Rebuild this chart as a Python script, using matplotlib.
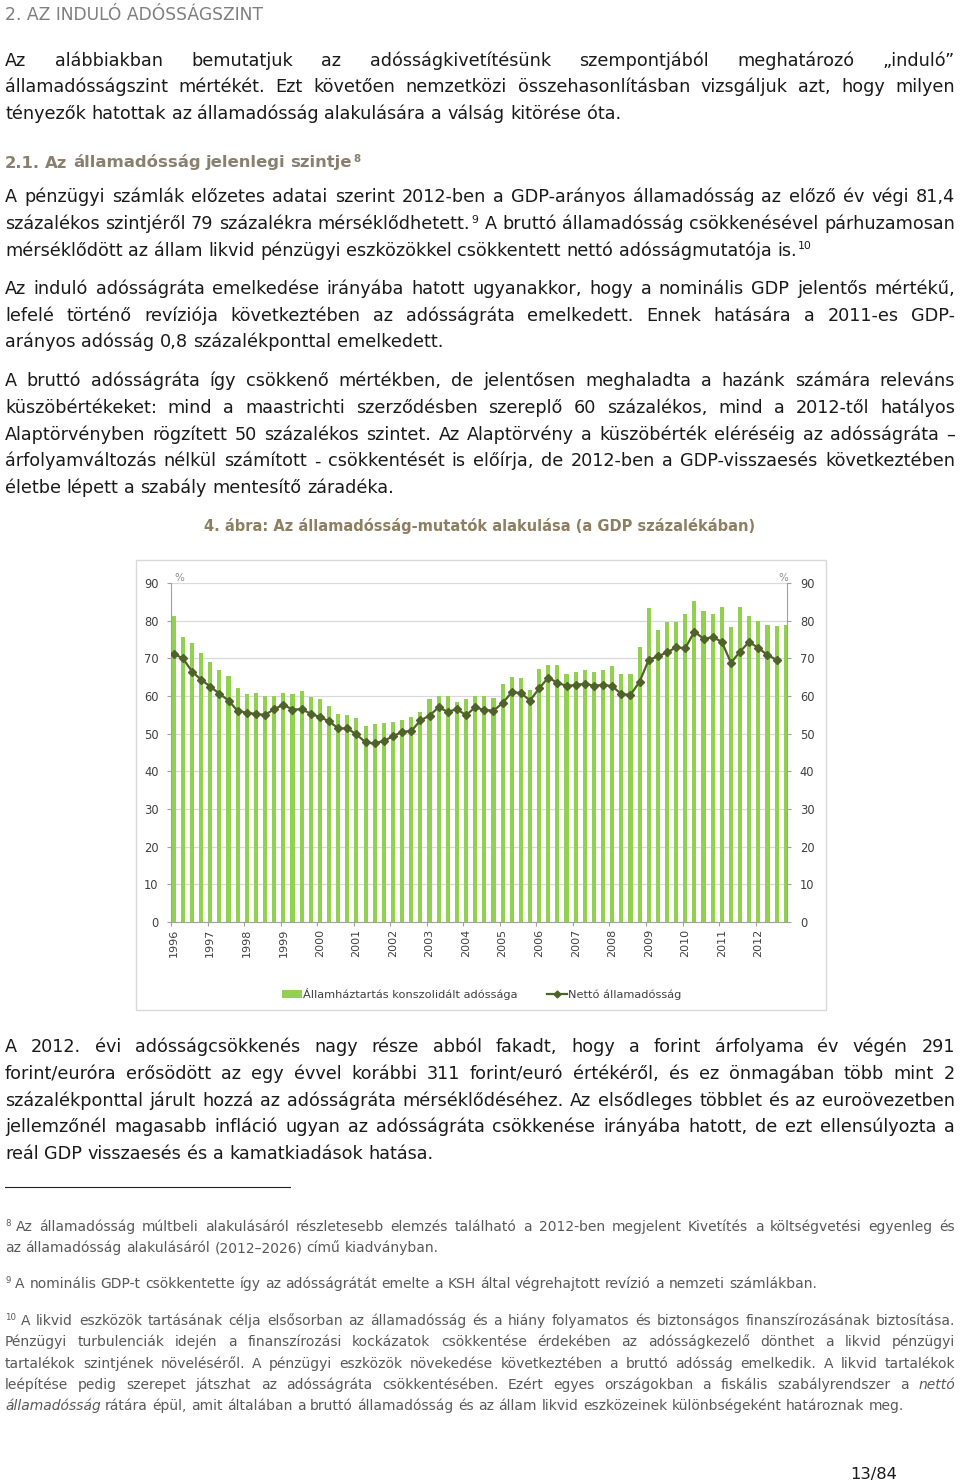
import matplotlib
matplotlib.use("Agg")
import matplotlib.pyplot as plt
import numpy as np
from matplotlib.patches import Rectangle, Patch
from matplotlib.lines import Line2D

# ---------------- data ----------------
years = [str(y) for y in range(1996, 2013)]
gross_debt = [81.2, 75.6, 74.1, 71.3,
              68.9, 67.0, 65.4, 62.0,
              60.6, 60.8, 60.0, 59.9,
              60.9, 60.6, 61.4, 59.7,
              59.2, 57.4, 55.2, 55.0,
              54.2, 52.0, 52.6, 52.8,
              53.2, 53.6, 54.4, 55.8,
              59.2, 60.0, 60.0, 58.5,
              59.3, 60.0, 60.0, 59.5,
              63.2, 65.0, 64.7, 61.7,
              67.1, 68.1, 68.1, 65.8,
              66.3, 66.9, 66.5, 67.0,
              68.0, 65.8, 65.8, 72.9,
              83.4, 77.4, 79.7, 79.7,
              81.9, 85.3, 82.6, 81.8,
              83.5, 78.3, 83.5, 81.3,
              79.8, 78.8, 78.5, 78.8]
net_debt = [71.2, 70.0, 66.5, 64.3,
            62.5, 60.6, 58.8, 56.0,
            55.6, 55.2, 55.0, 56.5,
            57.7, 56.4, 56.5, 55.3,
            54.4, 53.3, 51.4, 51.4,
            49.8, 47.7, 47.4, 48.1,
            49.3, 50.5, 50.7, 53.5,
            54.8, 57.0, 55.8, 56.5,
            54.9, 57.0, 56.3, 56.1,
            58.1, 61.0, 60.8, 58.8,
            62.0, 64.9, 63.5, 62.7,
            62.9, 63.3, 62.7, 63.0,
            62.6, 60.5, 60.3, 63.8,
            69.6, 70.5, 71.6, 72.9,
            72.7, 77.1, 75.2, 75.6,
            74.4, 68.8, 71.8, 74.4,
            72.7, 70.9, 69.6]
legend_labels = ["Államháztartás konszolidált adóssága", "Nettó államadósság"]
y_ticks = list(range(0, 91, 10))

# ---------------- text ----------------
heading = "2. AZ INDULÓ ADÓSSÁGSZINT"
para1 = ["Az alábbiakban bemutatjuk az adósságkivetítésünk szempontjából meghatározó „induló”",
         "államadósságszint mértékét. Ezt követően nemzetközi összehasonlításban vizsgáljuk azt, hogy milyen",
         "tényezők hatottak az államadósság alakulására a válság kitörése óta."]
subheading = "2.1. Az államadósság jelenlegi szintje^8"
para2 = ["A pénzügyi számlák előzetes adatai szerint 2012-ben a GDP-arányos államadósság az előző év végi 81,4",
         "százalékos szintjéről 79 százalékra mérséklődhetett.^9 A bruttó államadósság csökkenésével párhuzamosan",
         "mérséklődött az állam likvid pénzügyi eszközökkel csökkentett nettó adósságmutatója is.^10"]
para3 = ["Az induló adósságráta emelkedése irányába hatott ugyanakkor, hogy a nominális GDP jelentős mértékű,",
         "lefelé történő revíziója következtében az adósságráta emelkedett. Ennek hatására a 2011-es GDP-",
         "arányos adósság 0,8 százalékponttal emelkedett."]
para4 = ["A bruttó adósságráta így csökkenő mértékben, de jelentősen meghaladta a hazánk számára releváns",
         "küszöbértékeket: mind a maastrichti szerződésben szereplő 60 százalékos, mind a 2012-től hatályos",
         "Alaptörvényben rögzített 50 százalékos szintet. Az Alaptörvény a küszöbérték eléréséig az adósságráta –",
         "árfolyamváltozás nélkül számított - csökkentését is előírja, de 2012-ben a GDP-visszaesés következtében",
         "életbe lépett a szabály mentesítő záradéka."]
fig_title = "4. ábra: Az államadósság-mutatók alakulása (a GDP százalékában)"
para5 = ["A 2012. évi adósságcsökkenés nagy része abból fakadt, hogy a forint árfolyama év végén 291",
         "forint/euróra erősödött az egy évvel korábbi 311 forint/euró értékéről, és ez önmagában több mint 2",
         "százalékponttal járult hozzá az adósságráta mérséklődéséhez. Az elsődleges többlet és az euroövezetben",
         "jellemzőnél magasabb infláció ugyan az adósságráta csökkenése irányába hatott, de ezt ellensúlyozta a",
         "reál GDP visszaesés és a kamatkiadások hatása."]
fn8 = ["^8|Az államadósság múltbeli alakulásáról részletesebb elemzés található a 2012-ben megjelent Kivetítés a költségvetési egyenleg és",
       "az államadósság alakulásáról (2012–2026) című kiadványban."]
fn9 = ["^9|A nominális GDP-t csökkentette így az adósságrátát emelte a KSH által végrehajtott revízió a nemzeti számlákban."]
fn10 = ["^10|A likvid eszközök tartásának célja elsősorban az államadósság és a hiány folyamatos és biztonságos finanszírozásának biztosítása.",
        "Pénzügyi turbulenciák idején a finanszírozási kockázatok csökkentése érdekében az adósságkezelő dönthet a likvid pénzügyi",
        "tartalékok szintjének növeléséről. A pénzügyi eszközök növekedése következtében a bruttó adósság emelkedik. A likvid tartalékok",
        "leépítése pedig szerepet játszhat az adósságráta csökkentésében. Ezért egyes országokban a fiskális szabályrendszer a _nettó",
        "_államadósság rátára épül, amit általában a bruttó államadósság és az állam likvid eszközeinek különbségeként határoznak meg."]
page_no = "13/84"

FONT = "DejaVu Sans"
W, H = 960, 1481
fig = plt.figure(figsize=(W / 100, H / 100), dpi=100)
fig.patch.set_facecolor("white")
page = fig.add_axes([0, 0, 1, 1])
page.set_xlim(0, W)
page.set_ylim(H, 0)
page.axis("off")
R = fig.canvas.get_renderer()


def make(x, y, s, size, color, weight="normal", style="normal", ha="left"):
    return page.text(x, y, s, fontsize=size, color=color, fontweight=weight,
                     fontstyle=style, ha=ha, va="baseline", family=FONT)


def width(t):
    return t.get_window_extent(R).width


def fit(s, target, weight="normal", base=10.0):
    t = make(0, 0, s, base, "k", weight)
    w = width(t)
    t.remove()
    return base * target / w


def parse(tok):
    segs = []
    if tok.startswith("^") and "|" in tok:
        sup, tok = tok[1:].split("|", 1)
        segs.append((sup, "lead"))
    if tok.startswith("_"):
        segs.append((tok[1:], "it"))
        return segs
    if "^" in tok:
        main, sup = tok.split("^", 1)
        segs += [(main, "n"), (sup, "sup")]
    else:
        segs.append((tok, "n"))
    return segs


def draw_line(line, y, size, color, justify, x0=5, x1=955, weight="normal"):
    while True:
        words = []
        for tok in line.split():
            items, tw = [], 0
            for txt, kind in parse(tok):
                if kind in ("sup", "lead"):
                    t = make(0, y, txt, size * 0.62, color, weight)
                elif kind == "it":
                    t = make(0, y, txt, size, color, weight, "italic")
                else:
                    t = make(0, y, txt, size, color, weight)
                w = width(t)
                items.append((t, w, kind))
                tw += w + (2.5 if kind == "sup" else 5.0 if kind == "lead" else 0)
            words.append((items, tw))
        total = sum(w for _, w in words)
        space = 0.318 * size * 100 / 72
        n = len(words)
        gap = (x1 - x0 - total) / (n - 1) if (justify and n > 1) else space
        if gap < 0.45 * space:
            for items, _ in words:
                for t, _, _ in items:
                    t.remove()
            size *= 0.985
            continue
        break
    x = x0
    for items, tw in words:
        xx = x
        for t, w, kind in items:
            if kind == "lead":
                t.set_position((xx, y - size * 100 / 72 * 0.36))
                xx += w + 5.0
            elif kind == "sup":
                xx += 1
                t.set_position((xx, y - size * 100 / 72 * 0.36))
                xx += w + 1.5
            else:
                t.set_position((xx, y))
                xx += w
        x += tw + gap


def draw_para(lines, y0, pitch, size, color):
    for i, ln in enumerate(lines):
        draw_line(ln, y0 + i * pitch, size, color, justify=(i < len(lines) - 1))


BODY = "#1a1a1a"
FNC = "#595959"
body_size = fit(para1[2], 617)
fn_size = fit(fn8[1], 435)

make(5, 20, heading, fit(heading, 257), "#7f7f7f")
draw_para(para1, 65.5, 26.6, body_size, BODY)
draw_line(subheading, 167.5, fit("2.1. Az államadósság jelenlegi szintje", 349, "bold"),
          "#8a8070", False, weight="bold")
draw_para(para2, 202.5, 26.6, body_size, BODY)
draw_para(para3, 294, 26.6, body_size, BODY)
draw_para(para4, 386.5, 26.6, body_size, BODY)
make(480, 531, fig_title, fit(fig_title, 550, "bold"), "#8c7f62", weight="bold", ha="center")
draw_para(para5, 1052.5, 26.6, body_size, BODY)
page.plot([5, 290], [1187, 1187], color="#222222", lw=0.8)
draw_para(fn8, 1231, 21.3, fn_size, FNC)
draw_para(fn9, 1288, 21.3, fn_size, FNC)
draw_para(fn10, 1325, 21.3, fn_size, FNC)
make(873.5, 1479, page_no, fit(page_no, 47), "#1a1a1a", ha="center")

# ---------------- chart ----------------
page.add_patch(Rectangle((136, 560), 690, 450, fill=False, ec="#d9d9d9", lw=1.0))
page.text(179, 581, "%", fontsize=7.5, color="#8c8c8c", ha="center", va="baseline", family=FONT)
page.text(783.5, 581, "%", fontsize=7.5, color="#8c8c8c", ha="center", va="baseline", family=FONT)

ax = fig.add_axes([171 / W, 1 - 922 / H, (787.4 - 171) / W, (922 - 583) / H])
ax.set_facecolor("none")
xb = np.arange(len(gross_debt))
xl = np.arange(len(net_debt))
ax.bar(xb, gross_debt, width=0.45, color="#92d050", zorder=2)
ax.plot(xl, net_debt, color="#4f6228", lw=1.6, marker="D", ms=4.3, zorder=3)
ax.set_xlim(-0.3, len(gross_debt) - 1 + 0.18)
ax.set_ylim(0, 90)
ax.set_yticks(y_ticks)
ax.set_axisbelow(True)
ax.grid(axis="y", color="#d9d9d9", lw=0.9, zorder=0)
ax.yaxis.set_ticks_position("both")
ax.tick_params(axis="y", labelleft=True, labelright=True, length=3, width=0.8,
               color="#a0a0a0", labelsize=8.3, labelcolor="#404040", pad=6)
ax.set_xticks(np.arange(0, len(gross_debt), 4))
ax.set_xticklabels(years, rotation=90, fontsize=8, color="#404040", family=FONT)
ax.tick_params(axis="x", which="major", length=0, pad=5)
ax.set_xticks(np.arange(0, len(gross_debt), 4) - 0.3, minor=True)
ax.tick_params(axis="x", which="minor", length=3, width=0.8, color="#a0a0a0")
for lab in ax.get_yticklabels():
    lab.set_family(FONT)
ax.spines["top"].set_visible(False)
for s in ["left", "right", "bottom"]:
    ax.spines[s].set_color("#a0a0a0")
    ax.spines[s].set_linewidth(0.8)

handles = [Patch(facecolor="#92d050", edgecolor="none"),
           Line2D([], [], color="#4f6228", lw=1.6, marker="D", ms=3.5)]
fig.legend(handles, legend_labels, loc="center", bbox_to_anchor=(482 / W, 1 - 994 / H),
           ncol=2, frameon=False, fontsize=8.2, labelcolor="#404040",
           columnspacing=2.6, handlelength=1.7, handletextpad=0.15)

fig.savefig("out.png", dpi=100, facecolor="white")
